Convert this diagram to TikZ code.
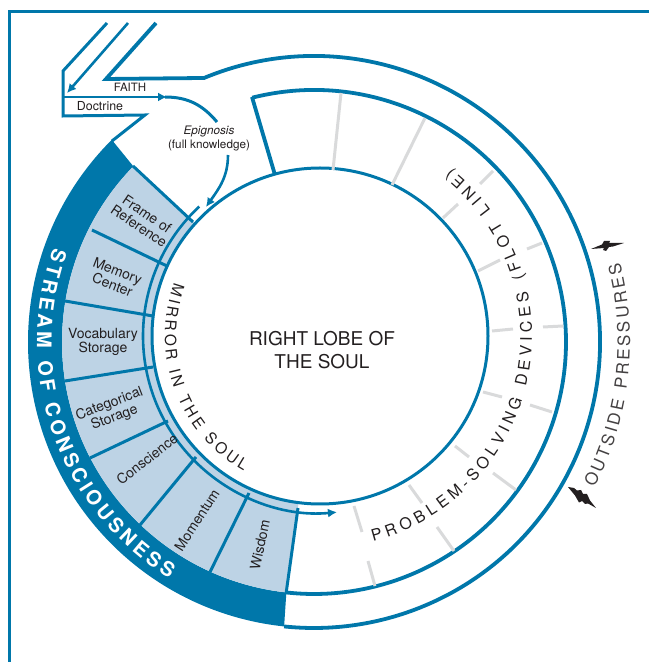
\documentclass[tikz,border=0pt]{standalone}
\usepackage{fontspec}
\setmainfont{TeX Gyre Heros}
\usetikzlibrary{calc,decorations.text,arrows.meta}
\definecolor{soulblue}{HTML}{0077AA}
\definecolor{cellblue}{HTML}{BDD3E5}
\definecolor{tickgray}{HTML}{D9DADB}
\definecolor{inkdark}{HTML}{231F20}
\newcommand{\cellfont}{\fontsize{14}{14.5}\selectfont}
\newcommand{\smallfont}{\fontsize{11.7}{14}\selectfont}
\newcommand{\streamfont}{\fontsize{20}{20}\selectfont\bfseries\color{white}}
\newcommand{\mirrorfont}{\fontsize{15.5}{15.5}\selectfont\color{inkdark}}
\newcommand{\flotfont}{\fontsize{16}{16}\selectfont\color{inkdark}}
\newcommand{\pressfont}{\fontsize{17}{17}\selectfont\color{inkdark!85}}
\tikzset{
  soulline/.style={draw=soulblue,line width=3pt},
  thickline/.style={draw=soulblue,line width=3.8pt},
  arrowline/.style={draw=soulblue,line width=2.6pt,-{Latex[length=9pt,width=9pt]}},
  graytick/.style={draw=tickgray,line width=3pt},
  celltext/.style={text=inkdark,align=center,font=\cellfont},
  smalltext/.style={text=inkdark,align=center,font=\smallfont},
  bolt/.style={fill=inkdark},
}

\begin{document}
\begin{tikzpicture}[x=1pt,y=1pt]
\useasboundingbox (0,0) rectangle (649,662);

\coordinate (rim) at (314,320);
\coordinate (lobe) at (320,326);

% page frame
\draw[soulblue,line width=3pt] (9.5,0) -- (9.5,650.5) -- (649,650.5);

% band and cells
\fill[soulblue] ($(rim)+(135:286)$) arc[start angle=135,end angle=264,radius=286]
      -- ($(rim)+(263.7:252)$) arc[start angle=263.7,end angle=135.8,radius=252] -- cycle;
\fill[cellblue] ($(rim)+(135.8:252)$) arc[start angle=135.8,end angle=263.7,radius=252]
      -- ($(lobe)+(262.7:168)$) arc[start angle=262.7,end angle=138,radius=168] -- cycle;

% funnel
\draw[soulline,line join=miter] (107,639) -- (63,591) -- (63,546) -- (145,547) -- (112,521);
\draw[thickline] (156,639) -- (106,583) -- ($(rim)+(112.6:286)$)
      arc[start angle=112.6,end angle=-96,radius=286];
\draw[arrowline] (128,639) -- (67,569);
\draw[arrowline] (63,565) -- (167,565);
\draw[soulline] (165,565) to[out=0,in=130] (217,540);
\draw[arrowline] (228,507) to[out=-90,in=55] (206,455);

% lobe and rings
\draw[thickline] ($(rim)+(104.2:252)$) arc[start angle=104.2,end angle=-96.3,radius=252];
\draw[thickline] (252,565) -- (275,487);
\draw[soulline] (lobe) circle (168);
\draw[arrowline] ($(lobe)+(133:177)$) arc[start angle=133,end angle=275.5,radius=177];

% cell dividers
\draw[soulline] (133,496) -- (193,440);
\draw[soulline] (92,432) -- (167,396);
\draw[soulline] (65,361) -- (153,346);
\draw[soulline] (65,281) -- (153,295);
\draw[soulline] (90,204) -- (168,241);
\draw[soulline] (140,137) -- (196,205);
\draw[soulline] (210,90) -- (249,169);
\draw[soulline] (286,68) -- (298,154);

% flot line ticks
\draw[graytick] (341,569) -- (333,492);
\draw[graytick] (425,544) -- (392,477);
\draw[graytick] (493,491) -- (480,478);
\draw[graytick] (458,458) -- (443,444);
\draw[graytick] (542,419) -- (527,413);
\draw[graytick] (500,402) -- (478,391);
\draw[graytick] (563,336) -- (543,335);
\draw[graytick] (513,333) -- (492,331);
\draw[graytick] (552,250) -- (530,257);
\draw[graytick] (502,265) -- (483,270);
\draw[graytick] (516,172) -- (493,189);
\draw[graytick] (469,205) -- (455,216);
\draw[graytick] (454,111) -- (437,135);
\draw[graytick] (422,159) -- (409,177);
\draw[graytick] (375,76) -- (368,101);
\draw[graytick] (362,130) -- (354,156);

% lightning
\fill[bolt] (591,413) -- (602,417.5) -- (604,421) -- (610,421) -- (609,419) -- (624,419)
      -- (613,415.5) -- (609,415) -- (606,411) -- (603,412) -- (604,414) -- cycle;
\fill[bolt] (568,175) -- (574,174) -- (577,171.5) -- (581,172) -- (583,168) -- (587,168)
      -- (590,161.5) -- (596,154) -- (588,158.5) -- (585,158) -- (582,161) -- (579,159.5) -- (575,166.5) -- cycle;

% curved texts
\path[decorate,decoration={text along path,text align={fit to path},
      text={|\streamfont|STREAM OF CONSCIOUSNESS}}]
      ($(rim)+(160:277)$) arc[start angle=160,end angle=238.5,radius=277];
\path[decorate,decoration={text along path,text align={fit to path},
      text={|\mirrorfont|MIRROR IN THE SOUL}}]
      ($(lobe)+(160:155)$) arc[start angle=160,end angle=240.5,radius=155];
\path[decorate,decoration={text along path,text align={fit to path},
      text={|\flotfont|PROBLEM-SOLVING DEVICES (FLOT LINE)}}]
      ($(lobe)+(-75.5:212)$) arc[start angle=-75.5,end angle=52,radius=212];
\path[decorate,decoration={text along path,text align={fit to path},
      text={|\pressfont|OUTSIDE PRESSURES}}]
      ($(rim)+(-27.5:316)$) arc[start angle=-27.5,end angle=14.5,radius=316];

% labels
\node[text=inkdark,font=\fontsize{19}{23}\selectfont,align=center] (lobename) at (322,312) {RIGHT LOBE OF\\THE SOUL};
\node[text=inkdark,font=\fontsize{11.5}{11.5}\selectfont] (faith) at (130,575) {FAITH};
\node[smalltext,font=\fontsize{12.4}{12.4}\selectfont] (doctrine) at (100,556) {Doctrine};
\node[smalltext] (epignosis) at (209,523) {\textit{Epignosis}\\(full knowledge)};
\node[celltext,rotate=-34] (frameref) at (143,442) {Frame of\\Reference};
\node[celltext,rotate=-21] (memory) at (115,384) {Memory\\Center};
\node[celltext,rotate=0] (vocab) at (103,320) {Vocabulary\\Storage};
\node[celltext,rotate=21] (categ) at (112,251) {Categorical\\Storage};
\node[celltext,rotate=38] (consc) at (147,203) {Conscience};
\node[celltext,rotate=57] (moment) at (197,142) {Momentum};
\node[celltext,rotate=78] (wisdom) at (260,117) {Wisdom};
\end{tikzpicture}
\end{document}
